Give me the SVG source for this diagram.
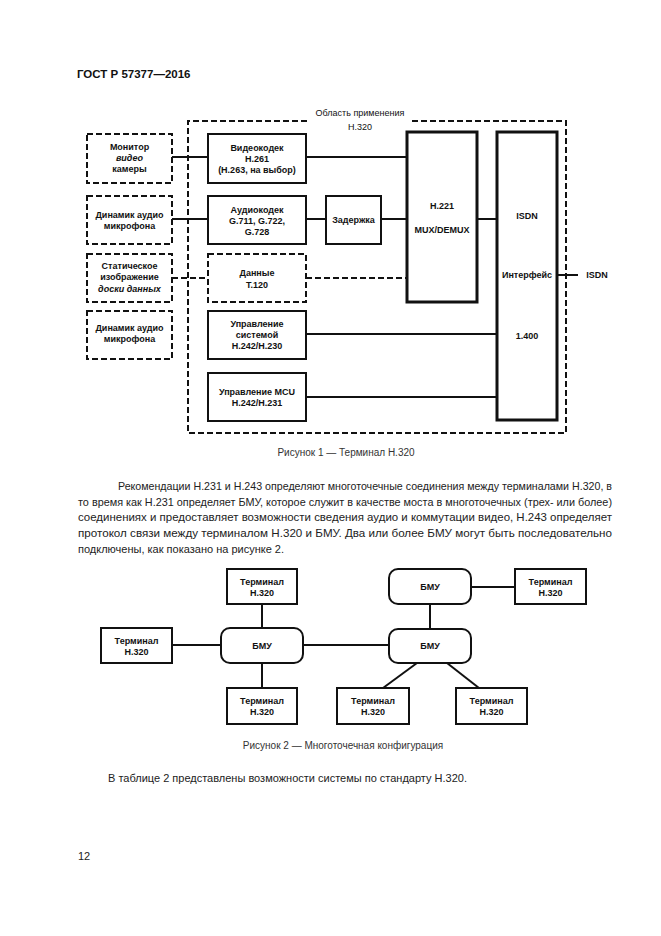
<svg xmlns="http://www.w3.org/2000/svg" width="661" height="936" viewBox="0 0 661 936">
<style>
text{font-family:"Liberation Sans",Arial,sans-serif;fill:#111}
.b{font-weight:bold;font-size:9px;text-anchor:middle}
.box{fill:none;stroke:#111;stroke-width:2}
.thick{fill:none;stroke:#111;stroke-width:3}
.dbox{fill:none;stroke:#111;stroke-width:2;stroke-dasharray:6 3}
.ln{stroke:#111;stroke-width:2;fill:none}
.dln{stroke:#111;stroke-width:2;fill:none;stroke-dasharray:6 3}
.cap{font-size:10px;fill:#333;text-anchor:middle}
.p{font-size:11px;fill:#222}
</style>
<rect width="661" height="936" fill="#fff"/>
<text x="77" y="78" style="font-weight:bold;font-size:11.5px">ГОСТ Р 57377—2016</text>

<!-- Figure 1 -->
<g id="scope">
<path class="dln" d="M307,121 H188 V433 H566 V121 H410"/>
<text x="360" y="116" style="font-size:9px;text-anchor:middle">Область применения</text>
<text x="360" y="130" style="font-size:9px;text-anchor:middle">H.320</text>
</g>
<g id="monitor"><rect class="dbox" x="87" y="134" width="85" height="49"/>
<text class="b" x="129.5" y="150">Монитор</text><text class="b" x="129.5" y="161" font-style="italic">видео</text><text class="b" x="129.5" y="172">камеры</text></g>
<g id="speaker1"><rect class="dbox" x="87" y="196" width="85" height="48"/>
<text class="b" x="129.5" y="218">Динамик аудио</text><text class="b" x="129.5" y="229">микрофона</text></g>
<g id="still"><rect class="dbox" x="87" y="254" width="85" height="48"/>
<text class="b" x="129.5" y="269">Статическое</text><text class="b" x="129.5" y="280">изображение</text><text class="b" x="129.5" y="292" font-style="italic">доски данных</text></g>
<g id="speaker2"><rect class="dbox" x="87" y="311" width="85" height="48"/>
<text class="b" x="129.5" y="331">Динамик аудио</text><text class="b" x="129.5" y="342">микрофона</text></g>

<g id="videocodec"><rect class="box" x="208" y="134" width="98" height="49"/>
<text class="b" x="257" y="151">Видеокодек</text><text class="b" x="257" y="162">H.261</text><text class="b" x="257" y="173">(H.263, на выбор)</text></g>
<g id="audiocodec"><rect class="box" x="208" y="196" width="98" height="48"/>
<text class="b" x="257" y="213">Аудиокодек</text><text class="b" x="257" y="224">G.711, G.722,</text><text class="b" x="257" y="235">G.728</text></g>
<g id="data"><rect class="dbox" x="208" y="254" width="98" height="48"/>
<text class="b" x="257" y="276">Данные</text><text class="b" x="257" y="288">T.120</text></g>
<g id="sysctrl"><rect class="box" x="208" y="311" width="98" height="48"/>
<text class="b" x="257" y="327">Управление</text><text class="b" x="257" y="338">системой</text><text class="b" x="257" y="349">H.242/H.230</text></g>
<g id="mcuctrl"><rect class="box" x="208" y="373" width="98" height="48"/>
<text class="b" x="257" y="395">Управление MCU</text><text class="b" x="257" y="406">H.242/H.231</text></g>
<g id="delay"><rect class="box" x="326" y="196" width="55" height="48"/>
<text class="b" x="353.5" y="223">Задержка</text></g>
<g id="mux"><rect class="thick" x="407" y="132" width="70" height="170"/>
<text class="b" x="442" y="209">H.221</text><text class="b" x="442" y="233">MUX/DEMUX</text></g>
<g id="isdnif"><rect class="thick" x="497" y="132" width="60" height="288"/>
<text class="b" x="527" y="219">ISDN</text><text class="b" x="527" y="278">Интерфейс</text><text class="b" x="527" y="339">1.400</text></g>
<g id="isdn"><text class="b" x="597" y="278">ISDN</text></g>

<g id="connectors1">
<line class="ln" x1="172" y1="157" x2="208" y2="157"/>
<line class="ln" x1="306" y1="157" x2="407" y2="157"/>
<line class="ln" x1="172" y1="219" x2="208" y2="219"/>
<line class="ln" x1="306" y1="219" x2="326" y2="219"/>
<line class="ln" x1="381" y1="219" x2="407" y2="219"/>
<line class="dln" x1="172" y1="278" x2="208" y2="278"/>
<line class="dln" x1="306" y1="278" x2="407" y2="278"/>
<line class="ln" x1="477" y1="219" x2="497" y2="219"/>
<line class="ln" x1="557" y1="275" x2="578" y2="275"/>
<line class="ln" x1="306" y1="334" x2="497" y2="334"/>
<line class="ln" x1="306" y1="397" x2="497" y2="397"/>
</g>
<text class="cap" x="346" y="456">Рисунок 1 — Терминал H.320</text>

<g id="paragraph">
<text class="p" x="118" y="490" textLength="494" lengthAdjust="spacingAndGlyphs">Рекомендации H.231 и H.243 определяют многоточечные соединения между терминалами H.320, в</text>
<text class="p" x="78" y="506" textLength="534" lengthAdjust="spacingAndGlyphs">то время как H.231 определяет БМУ, которое служит в качестве моста в многоточечных (трех- или более)</text>
<text class="p" x="78" y="521" textLength="534" lengthAdjust="spacingAndGlyphs">соединениях и предоставляет возможности сведения аудио и коммутации видео, H.243 определяет</text>
<text class="p" x="78" y="537" textLength="534" lengthAdjust="spacingAndGlyphs">протокол связи между терминалом H.320 и БМУ. Два или более БМУ могут быть последовательно</text>
<text class="p" x="78" y="553">подключены, как показано на рисунке 2.</text>
</g>

<!-- Figure 2 -->
<g id="t1"><rect class="box" x="227" y="569" width="70" height="35"/><text class="b" x="262" y="585">Терминал</text><text class="b" x="262" y="596">H.320</text></g>
<g id="t2"><rect class="box" x="101" y="628" width="71" height="35"/><text class="b" x="136.5" y="644">Терминал</text><text class="b" x="136.5" y="655">H.320</text></g>
<g id="t3"><rect class="box" x="227" y="688" width="70" height="36"/><text class="b" x="262" y="704">Терминал</text><text class="b" x="262" y="715">H.320</text></g>
<g id="t4"><rect class="box" x="515" y="569" width="71" height="35"/><text class="b" x="550.5" y="585">Терминал</text><text class="b" x="550.5" y="596">H.320</text></g>
<g id="t5"><rect class="box" x="337" y="688" width="72" height="36"/><text class="b" x="373" y="704">Терминал</text><text class="b" x="373" y="715">H.320</text></g>
<g id="t6"><rect class="box" x="456" y="688" width="71" height="36"/><text class="b" x="491.5" y="704">Терминал</text><text class="b" x="491.5" y="715">H.320</text></g>
<g id="bmu1"><rect class="box" x="221" y="628" width="82" height="35" rx="9"/><text class="b" x="262" y="649">БМУ</text></g>
<g id="bmu2"><rect class="box" x="389" y="569" width="82" height="35" rx="9"/><text class="b" x="430" y="590">БМУ</text></g>
<g id="bmu3"><rect class="box" x="389" y="629" width="82" height="34" rx="9"/><text class="b" x="430" y="649">БМУ</text></g>
<g id="connectors2">
<line class="ln" x1="262" y1="604" x2="262" y2="628"/>
<line class="ln" x1="172" y1="645" x2="221" y2="645"/>
<line class="ln" x1="262" y1="663" x2="262" y2="688"/>
<line class="ln" x1="303" y1="645" x2="389" y2="645"/>
<line class="ln" x1="430" y1="604" x2="430" y2="629"/>
<line class="ln" x1="471" y1="587" x2="515" y2="587"/>
<line class="ln" x1="417" y1="663" x2="383" y2="688"/>
<line class="ln" x1="447" y1="663" x2="479" y2="688"/>
</g>
<text class="cap" x="343" y="749">Рисунок 2 — Многоточечная конфигурация</text>

<text class="p" x="108" y="782">В таблице 2 представлены возможности системы по стандарту H.320.</text>
<text class="p" x="78" y="860">12</text>
</svg>
